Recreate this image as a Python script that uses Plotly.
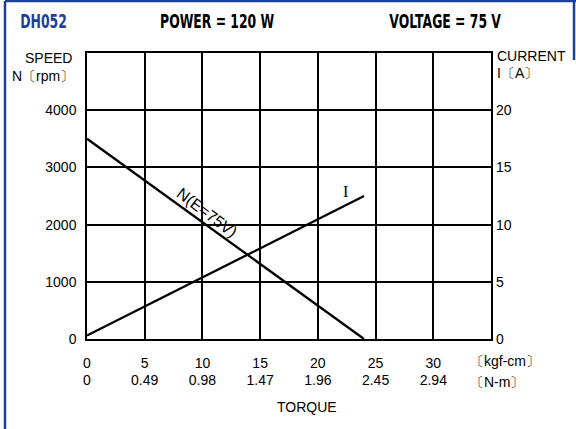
import plotly.graph_objects as go

# Data
torque = [0, 24]            # kgf-cm
speed = [3500, 0]           # rpm
current_torque = [0, 24]
current = [0.3, 12.5]       # A

x_ticks = [0, 5, 10, 15, 20, 25, 30]
x_ticks_nm = ["0", "0.49", "0.98", "1.47", "1.96", "2.45", "2.94"]
speed_ticks = [0, 1000, 2000, 3000, 4000]
current_ticks = [0, 5, 10, 15, 20]

# Pixel helpers for paper coordinates (plot area 87..491 x 53..339)
L, R, T, B = 87, 491, 53, 339
def px(x):
    return (x - L) / (R - L)
def py(y):
    return (B - y) / (B - T)

FONT = "Liberation Sans, Arial, sans-serif"
TITLE_FONT = "DejaVu Sans, sans-serif"
BLUE = "#1c3f9c"

fig = go.Figure()
fig.add_trace(go.Scatter(x=torque, y=speed, mode="lines",
                         line=dict(color="black", width=2.3), xaxis="x", yaxis="y",
                         showlegend=False, hoverinfo="skip"))
fig.add_trace(go.Scatter(x=current_torque, y=current, mode="lines",
                         line=dict(color="black", width=2.3), xaxis="x", yaxis="y2",
                         showlegend=False, hoverinfo="skip"))
fig.add_trace(go.Scatter(x=[0, 35], y=[None, None], mode="lines", xaxis="x2", yaxis="y",
                         showlegend=False, hoverinfo="skip"))

axis_common = dict(showline=True, linecolor="black", linewidth=1.5, zeroline=False,
                   ticks="", tickfont=dict(family=FONT, size=14, color="black"))

fig.update_layout(
    width=576, height=429,
    margin=dict(l=L, r=576 - R, t=T, b=429 - B),
    plot_bgcolor="white", paper_bgcolor="white",
    xaxis=dict(range=[0, 35], tickvals=x_ticks, ticktext=[str(v) for v in x_ticks],
               showgrid=True, gridcolor="black", gridwidth=1.5, mirror=True,
               ticklabelstandoff=10, **axis_common),
    xaxis2=dict(range=[0, 35], tickvals=x_ticks, ticktext=x_ticks_nm, overlaying="x",
                anchor="y", side="bottom", showgrid=False, showline=False, zeroline=False,
                ticks="", ticklabelstandoff=31,
                tickfont=dict(family=FONT, size=14, color="black")),
    yaxis=dict(range=[0, 5000], tickvals=speed_ticks, ticktext=[str(v) for v in speed_ticks],
               showgrid=True, gridcolor="black", gridwidth=1.5, mirror=True,
               ticklabelstandoff=6, **axis_common),
    yaxis2=dict(range=[0, 25], tickvals=current_ticks, ticktext=[str(v) for v in current_ticks],
                overlaying="y", side="right", showgrid=False, showline=False, zeroline=False,
                ticks="", ticklabelstandoff=4,
                tickfont=dict(family=FONT, size=14, color="black")),
)

ann = []
def txt(text, x, y, xanchor="center", size=14, family=FONT, color="black", **kw):
    ann.append(dict(text=text, x=px(x), y=py(y), xref="paper", yref="paper",
                    xanchor=xanchor, yanchor="middle", showarrow=False,
                    font=dict(family=family, size=size, color=color), **kw))

txt("<b>DH052</b>", 43, 21, size=20, family=TITLE_FONT, color=BLUE)
txt("<b>POWER = 120 W</b>", 217, 21, size=20, family=TITLE_FONT)
txt("<b>VOLTAGE = 75 V</b>", 445, 21, size=20, family=TITLE_FONT)
txt("SPEED", 74, 58, xanchor="right")
txt("N〔rpm〕", 76, 76, xanchor="right")
txt("CURRENT", 495, 56, xanchor="left")
txt("I〔A〕", 495, 73, xanchor="left")
txt("〔kgf-cm〕", 468, 361, xanchor="left")
txt("〔N-m〕", 468, 382, xanchor="left")
txt("TORQUE", 307, 407)
txt("I", 345, 191, size=16, family="Liberation Serif, serif")
txt("N(E=75V)", 207, 212, size=16, textangle=37)

fig.update_layout(annotations=ann)
# blue frame: top and left edges
fig.add_shape(type="line", xref="paper", yref="paper",
              x0=px(5), x1=px(5), y0=py(429), y1=py(1),
              line=dict(color=BLUE, width=2.5), layer="below")
fig.add_shape(type="line", xref="paper", yref="paper",
              x0=px(5), x1=px(576), y0=py(1), y1=py(1),
              line=dict(color=BLUE, width=2.5), layer="below")
fig.add_shape(type="line", xref="paper", yref="paper",
              x0=px(574), x1=px(574), y0=py(1), y1=py(60),
              line=dict(color=BLUE, width=2.5), layer="below")

post = """
document.body.style.margin='0';
document.body.style.overflow='hidden';
document.querySelectorAll('text.annotation-text').forEach(function(t){
  var ff = (t.style.fontFamily || '');
  if (ff.indexOf('DejaVu') >= 0) {
    t.style.transformBox = 'fill-box';
    t.style.transformOrigin = 'center';
    t.style.transform = 'scaleX(0.62)';
  }
});
"""

fig.write_html("out.html", post_script=post, config={"displayModeBar": False})
